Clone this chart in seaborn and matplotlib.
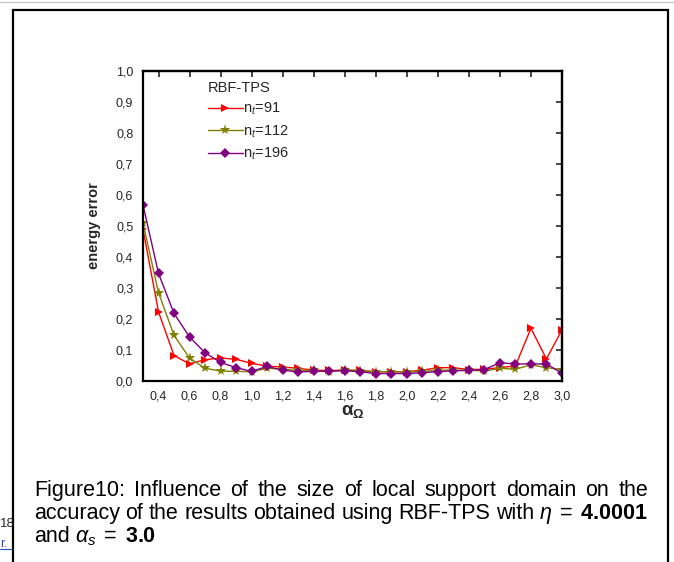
import numpy as np
import pandas as pd
import seaborn as sns
import matplotlib.pyplot as plt
from matplotlib.ticker import MultipleLocator, FuncFormatter
from matplotlib.lines import Line2D
from matplotlib.patches import Rectangle
from matplotlib.transforms import IdentityTransform

# data
alpha = [0.3, 0.4, 0.5, 0.6, 0.7, 0.8, 0.9, 1.0, 1.1, 1.2, 1.3, 1.4, 1.5, 1.6,
         1.7, 1.8, 1.9, 2.0, 2.1, 2.2, 2.3, 2.4, 2.5, 2.6, 2.7, 2.8, 2.9, 3.0]
err_91 = [0.49, 0.223, 0.082, 0.055, 0.069, 0.074, 0.070, 0.057, 0.048, 0.045,
          0.041, 0.035, 0.034, 0.035, 0.034, 0.030, 0.030, 0.030, 0.035, 0.043,
          0.043, 0.037, 0.038, 0.043, 0.049, 0.170, 0.071, 0.165]
err_112 = [0.51, 0.285, 0.147, 0.074, 0.041, 0.032, 0.031, 0.030, 0.041, 0.038,
           0.034, 0.034, 0.030, 0.036, 0.033, 0.030, 0.030, 0.029, 0.031, 0.035,
           0.035, 0.035, 0.032, 0.041, 0.038, 0.052, 0.043, 0.037]
err_196 = [0.568, 0.347, 0.218, 0.142, 0.091, 0.060, 0.043, 0.031, 0.047, 0.035,
           0.029, 0.031, 0.032, 0.033, 0.030, 0.024, 0.024, 0.024, 0.027, 0.030,
           0.033, 0.034, 0.037, 0.059, 0.055, 0.055, 0.055, 0.025]
labels = ['n$_t$=91', 'n$_t$=112', 'n$_t$=196']
colors = ['#ff0000', '#808000', '#800080']
markers = ['>', '*', 'D']
msizes = [6, 8, 5]

df = pd.DataFrame({'alpha': alpha * 3,
                   'err': err_91 + err_112 + err_196,
                   'n': [labels[0]] * len(alpha) + [labels[1]] * len(alpha) + [labels[2]] * len(alpha)})

sns.set_style('white')
plt.rcParams['font.family'] = ['Liberation Sans', 'DejaVu Sans']
plt.rcParams['mathtext.fontset'] = 'custom'
plt.rcParams['mathtext.rm'] = 'Liberation Sans'
plt.rcParams['mathtext.it'] = 'Liberation Sans:italic'
plt.rcParams['mathtext.bf'] = 'Liberation Sans:bold'

fig = plt.figure(figsize=(6.74, 5.62), dpi=100)
ax = fig.add_axes([143 / 674, 181 / 562, 419 / 674, 310 / 562])

for lab, c, m, ms in zip(labels, colors, markers, msizes):
    sns.lineplot(data=df[df['n'] == lab], x='alpha', y='err', color=c, marker=m,
                 markersize=ms, markeredgewidth=0, linewidth=1, ax=ax, legend=False)

ax.set_xlim(0.3, 3.0)
ax.set_ylim(0, 1.0)
comma = FuncFormatter(lambda v, p: ('%.1f' % v).replace('.', ','))
ax.xaxis.set_major_locator(plt.FixedLocator(np.arange(0.4, 3.01, 0.2)))
ax.xaxis.set_minor_locator(plt.FixedLocator(np.arange(0.3, 3.01, 0.2)))
ax.yaxis.set_major_locator(MultipleLocator(0.1))
ax.yaxis.set_minor_locator(MultipleLocator(0.05))
ax.xaxis.set_major_formatter(comma)
ax.yaxis.set_major_formatter(comma)
ax.tick_params(which='major', direction='out', length=5, width=1.5, labelsize=9, pad=2)
ax.tick_params(which='minor', direction='out', length=3, width=1.2)
for s in ax.spines.values():
    s.set_linewidth(1.6)
    s.set_color('black')

# top / right axes with inward ticks
top = ax.secondary_xaxis('top')
top.xaxis.set_major_locator(plt.FixedLocator(np.arange(0.4, 3.01, 0.2)))
top.tick_params(direction='in', length=4, width=1.2, labeltop=False)
top.spines['top'].set_linewidth(1.6)
right = ax.secondary_yaxis('right')
right.yaxis.set_major_locator(MultipleLocator(0.1))
right.tick_params(direction='in', length=4, width=1.2, labelright=False)
right.spines['right'].set_linewidth(1.6)

ax.set_xlabel(r'$\mathbf{\alpha}_{\mathbf{\Omega}}$', fontsize=13.5, labelpad=0)
ax.set_ylabel('energy error', fontsize=10.5, fontweight='bold', labelpad=11)

handles = [Line2D([], [], color=c, marker=m, markersize=ms, markeredgewidth=0, linewidth=1)
           for c, m, ms in zip(colors, markers, msizes)]
leg = ax.legend(handles, labels, title='RBF-TPS', loc='upper left',
                bbox_to_anchor=(0.155, 0.968), frameon=False, fontsize=10.5,
                title_fontsize=10.5, handlelength=2.4, handletextpad=0.0,
                labelspacing=0.42, borderpad=0, borderaxespad=0, alignment='left')

# caption, justified like the page
r = fig.canvas.get_renderer()
cap_kw = dict(fontsize=15.5, color='black', transform=IdentityTransform(), va='baseline')


def put_line(words, x0, x1, y, justify=True):
    texts = [fig.text(0, 0, w, **cap_kw) for w in words]
    widths = [t.get_window_extent(r).width for t in texts]
    gap = (x1 - x0 - sum(widths)) / (len(words) - 1) if justify else 5
    x = x0
    for t, w in zip(texts, widths):
        t.set_position((x, y))
        x += w + gap


put_line('Figure10: Influence of the size of local support domain on the'.split(), 34, 648, 562 - 496)
put_line('accuracy of the results obtained using RBF-TPS with'.split()
         + [r'$\eta\;=\;\mathbf{4.0001}$'], 34, 648, 562 - 519)
put_line(['and', r'$\alpha_s\;=\;\mathbf{3.0}$'], 34, 200, 562 - 542, justify=False)

# page bits
fig.patches.append(Rectangle((13, -10), 655, 562 - 10 + 10, transform=IdentityTransform(),
                             fill=False, edgecolor='black', linewidth=1.6))
fig.lines.append(Line2D([0, 674], [560, 560], transform=IdentityTransform(), color='#c8c8c8', linewidth=1))
fig.text(0, 562 - 527, '18', fontsize=9.5, transform=IdentityTransform(), va='baseline')
fig.text(0, 562 - 547, 'r.', fontsize=9.5, color='#1f4fbf', transform=IdentityTransform(), va='baseline')
fig.lines.append(Line2D([0, 12], [562 - 549, 562 - 549], transform=IdentityTransform(), color='#1f4fbf', linewidth=0.8))

fig.savefig('out.png', dpi=100)
